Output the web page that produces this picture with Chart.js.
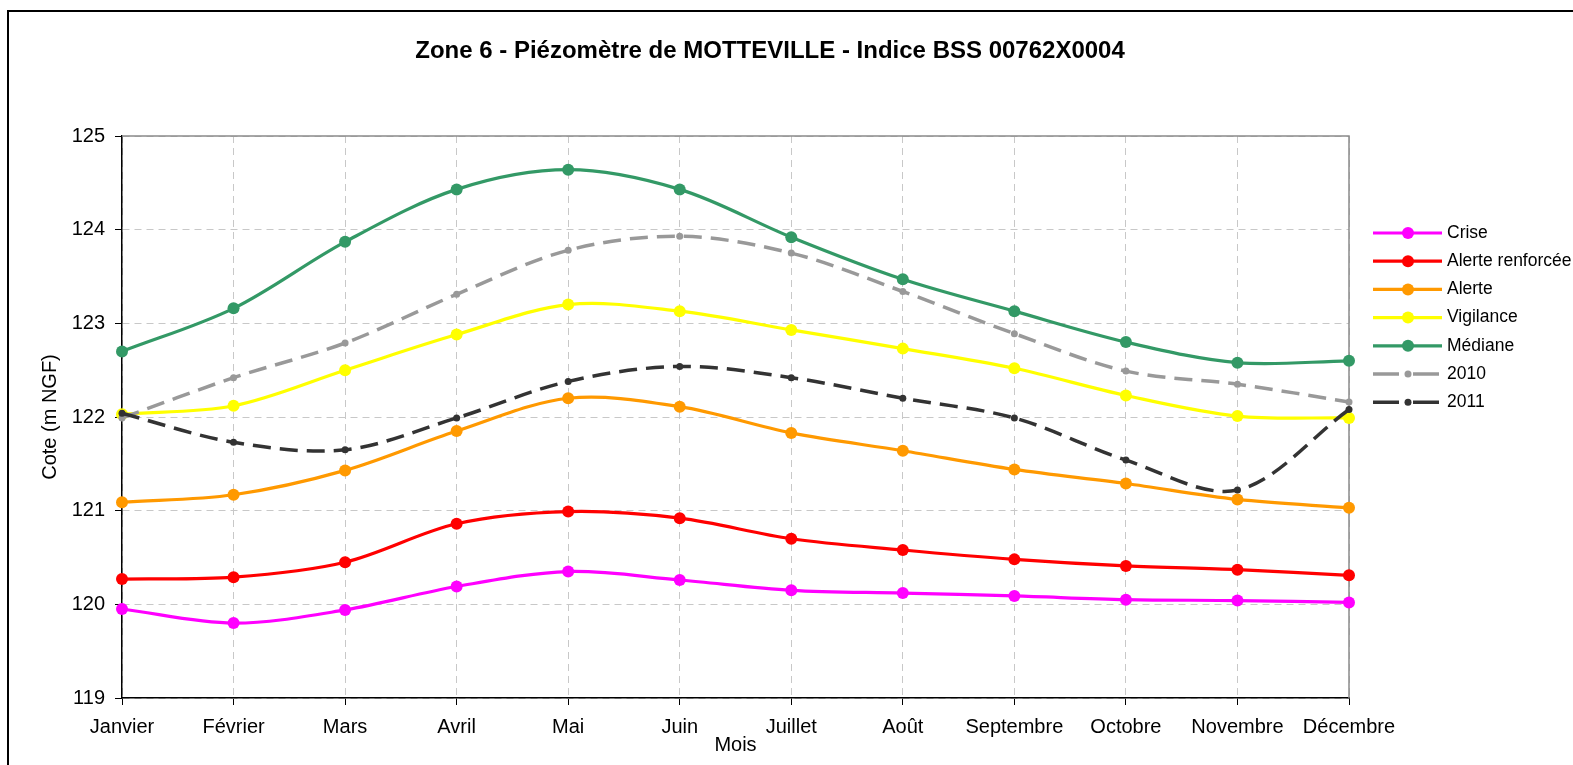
<!DOCTYPE html>
<html lang="fr">
<head>
<meta charset="utf-8">
<title>Zone 6 - Piézomètre de MOTTEVILLE</title>
<script src="https://cdn.jsdelivr.net/npm/chart.js@4.4.1/dist/chart.umd.min.js"></script>
<style>
  html, body { margin: 0; padding: 0; background: #fff; }
  canvas { display: block; }
</style>
</head>
<body>
<canvas id="piezoChart" width="1573" height="765"></canvas>
<script>
// Données (m NGF)
const months = ['Janvier', 'Février', 'Mars', 'Avril', 'Mai', 'Juin', 'Juillet', 'Août', 'Septembre', 'Octobre', 'Novembre', 'Décembre'];
const yTicks = [119, 120, 121, 122, 123, 124, 125];

const crise           = [119.95, 119.80, 119.94, 120.19, 120.35, 120.26, 120.15, 120.12, 120.09, 120.05, 120.04, 120.02];
const alerteRenforcee = [120.27, 120.29, 120.45, 120.86, 120.99, 120.92, 120.70, 120.58, 120.48, 120.41, 120.37, 120.31];
const alerte          = [121.09, 121.17, 121.43, 121.85, 122.20, 122.11, 121.83, 121.64, 121.44, 121.29, 121.12, 121.03];
const vigilance       = [122.03, 122.12, 122.50, 122.88, 123.20, 123.13, 122.93, 122.73, 122.52, 122.23, 122.01, 121.99];
const mediane         = [122.70, 123.16, 123.87, 124.43, 124.64, 124.43, 123.92, 123.47, 123.13, 122.80, 122.58, 122.60];
const annee2010       = [121.99, 122.42, 122.79, 123.31, 123.78, 123.93, 123.75, 123.34, 122.89, 122.49, 122.35, 122.16];
const annee2011       = [122.04, 121.73, 121.65, 121.99, 122.38, 122.54, 122.42, 122.20, 121.99, 121.54, 121.22, 122.08];

const FONT = '"Liberation Sans", Arial, sans-serif';

function solidSeries(label, data, color, order) {
    return {
        label: label,
        data: data,
        borderColor: color,
        backgroundColor: color,
        borderWidth: 3.2,
        pointRadius: 6,
        pointBorderWidth: 0,
        tension: 0.33,
        order: order
    };
}

function dashedSeries(label, data, color, order) {
    return {
        label: label,
        data: data,
        borderColor: color,
        backgroundColor: color,
        borderWidth: 3.5,
        borderDash: [18, 9],
        pointRadius: 3.5,
        pointBorderWidth: 0,
        tension: 0.33,
        order: order
    };
}

// Titre, cadre, bordure grise de la zone de tracé et légende
const decorPlugin = {
    id: 'decor',
    beforeDraw(chart) {
        const ctx = chart.ctx;
        ctx.save();
        ctx.fillStyle = '#fff';
        ctx.fillRect(0, 0, chart.width, chart.height);
        ctx.restore();
    },
    beforeDatasetsDraw(chart) {
        const { ctx, chartArea: a } = chart;
        ctx.save();
        ctx.strokeStyle = '#8a8a8a';
        ctx.lineWidth = 1.5;
        ctx.beginPath();
        ctx.moveTo(a.left, a.top);
        ctx.lineTo(a.right, a.top);
        ctx.lineTo(a.right, a.bottom);
        ctx.stroke();
        ctx.restore();
    },
    afterDraw(chart) {
        const ctx = chart.ctx;
        ctx.save();

        // cadre extérieur
        ctx.strokeStyle = '#000';
        ctx.lineWidth = 2;
        ctx.strokeRect(8, 11, chart.width + 20, chart.height + 20);

        // titre
        ctx.fillStyle = '#000';
        ctx.font = 'bold 24px ' + FONT;
        ctx.textAlign = 'center';
        ctx.textBaseline = 'middle';
        ctx.fillText('Zone 6 - Piézomètre de MOTTEVILLE - Indice BSS 00762X0004', 770, 51);

        // légende
        ctx.textAlign = 'left';
        ctx.font = '17.5px ' + FONT;
        chart.data.datasets.forEach((ds, i) => {
            const y = 233 + i * 28.2;
            ctx.strokeStyle = ds.borderColor;
            ctx.lineWidth = ds.borderWidth;
            ctx.setLineDash(ds.borderDash ? [26, 14] : []);
            ctx.beginPath();
            ctx.moveTo(1373, y);
            ctx.lineTo(1442, y);
            ctx.stroke();
            ctx.setLineDash([]);
            ctx.fillStyle = ds.backgroundColor;
            ctx.beginPath();
            ctx.arc(1408, y, ds.pointRadius, 0, Math.PI * 2);
            ctx.fill();
            ctx.fillStyle = '#000';
            ctx.fillText(ds.label, 1447, y);
        });
        ctx.restore();
    }
};

new Chart(document.getElementById('piezoChart'), {
    type: 'line',
    data: {
        labels: months,
        datasets: [
            solidSeries('Crise', crise, '#ff00ff', 6),
            solidSeries('Alerte renforcée', alerteRenforcee, '#ff0000', 5),
            solidSeries('Alerte', alerte, '#ff9900', 4),
            solidSeries('Vigilance', vigilance, '#ffff00', 3),
            solidSeries('Médiane', mediane, '#339966', 2),
            dashedSeries('2010', annee2010, '#999999', 1),
            dashedSeries('2011', annee2011, '#333333', 0)
        ]
    },
    options: {
        responsive: false,
        animation: false,
        layout: { padding: { left: 0, top: 136, right: 224, bottom: 0 } },
        plugins: {
            legend: { display: false },
            title: { display: false },
            tooltip: { enabled: false }
        },
        scales: {
            x: {
                offset: false,
                grid: {
                    color: '#c8c8c8',
                    tickColor: '#000',
                    tickLength: 7,
                    tickBorderDash: []
                },
                border: { color: '#000', width: 1.5, dash: [7, 5] },
                ticks: {
                    color: '#000',
                    font: { family: FONT, size: 20 },
                    padding: 10,
                    maxRotation: 0,
                    autoSkip: false
                },
                title: {
                    display: true,
                    text: 'Mois',
                    color: '#000',
                    font: { family: FONT, size: 20 },
                    padding: { top: 0, bottom: 8 }
                },
                afterFit(scale) { scale.height = 67; }
            },
            y: {
                min: yTicks[0],
                max: yTicks[yTicks.length - 1],
                afterBuildTicks(scale) { scale.ticks = yTicks.map(v => ({ value: v })); },
                grid: {
                    color: '#c8c8c8',
                    tickColor: '#000',
                    tickLength: 7,
                    tickBorderDash: []
                },
                border: { color: '#000', width: 1.5, dash: [7, 5] },
                ticks: {
                    color: '#000',
                    font: { family: FONT, size: 20 },
                    padding: 10
                },
                title: {
                    display: true,
                    text: 'Cote (m NGF)',
                    color: '#000',
                    font: { family: FONT, size: 20 },
                    padding: { top: 38, bottom: 0 }
                },
                afterFit(scale) { scale.width = 122; }
            }
        }
    },
    plugins: [decorPlugin]
});
</script>
</body>
</html>
